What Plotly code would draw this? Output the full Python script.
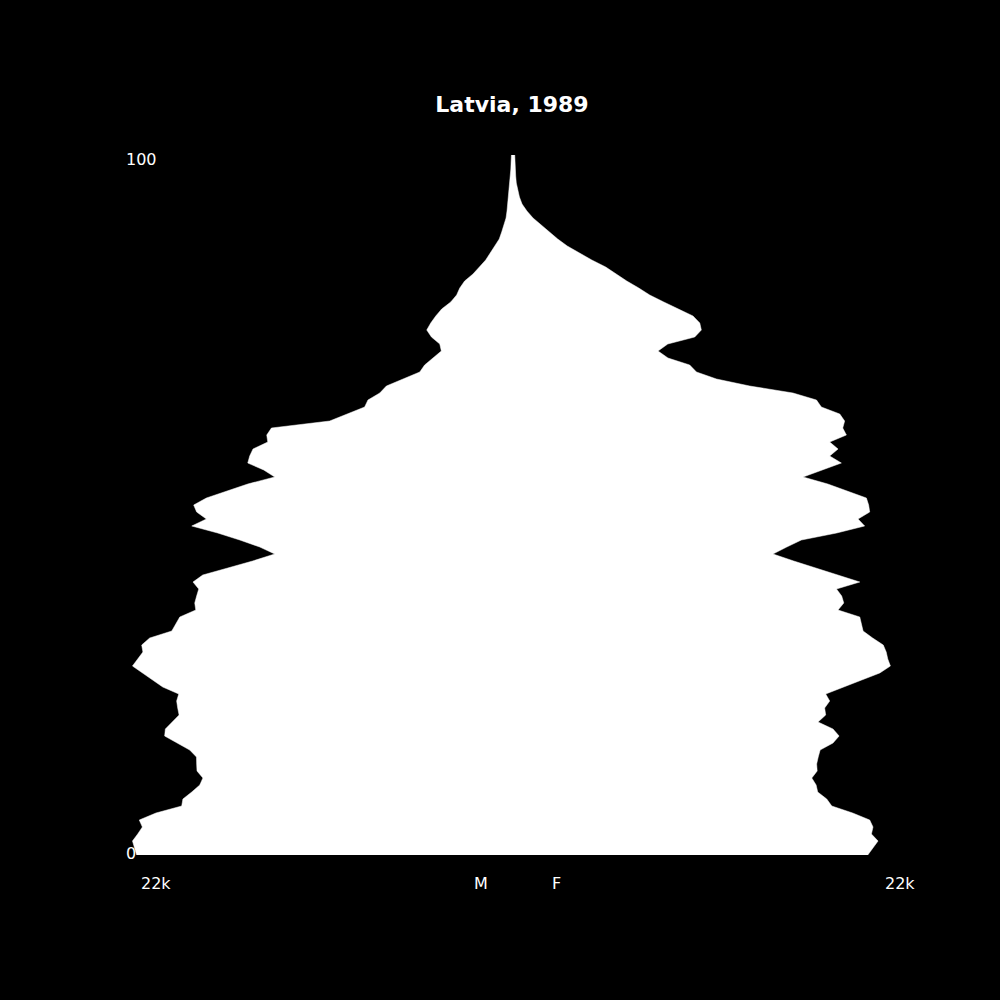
import plotly.graph_objects as go

# ---------------- DATA ----------------
ages = list(range(0, 101))

male = [21640, 21750, 21880, 21580, 21310, 21490, 20530, 19050, 18980, 18470,
        18010, 17830, 18170, 18190, 18200, 18590, 19280, 20030, 19990, 19620,
        19200, 19280, 19340, 19220, 20140, 20720, 21290, 21880, 21580, 21280,
        21350, 20890, 19620, 19390, 19160, 18240, 18300, 18190, 18070, 18400,
        17840, 16400, 14970, 13700, 14560, 15710, 16980, 18470, 17630, 18190,
        18360, 17630, 16460, 15250, 13700, 14330, 15250, 15140, 14950, 14100,
        14160, 13890, 10540, 9500, 8530, 8340, 7660, 7280, 6280, 5360,
        5080, 4620, 4120, 4210, 4690, 4960, 4730, 4440, 4100, 3580,
        3240, 3060, 2780, 2300, 1910, 1570, 1310, 1050, 790, 650,
        510, 400, 345, 305, 260, 220, 180, 150, 125, 110, 90]

female = [20400, 20680, 20990, 20610, 20700, 20510, 19530, 18330, 18040, 17520,
          17430, 17180, 17490, 17460, 17550, 17660, 18400, 18750, 18400, 17540,
          17980, 17920, 18210, 17980, 19020, 20050, 21090, 21700, 21550, 21460,
          21290, 20680, 20130, 20020, 19940, 18690, 19020, 18900, 18600, 19940,
          18610, 17410, 16140, 14950, 15740, 16580, 18610, 20220, 19840, 20510,
          20450, 20320, 19250, 18100, 16680, 17750, 18880, 18210, 18690, 18210,
          19170, 18960, 19070, 18790, 17730, 17450, 16100, 13610, 11700, 10550,
          10160, 8910, 8340, 8900, 10450, 10830, 10740, 10350, 9470, 8670,
          7860, 7230, 6540, 5930, 5330, 4530, 3810, 3120, 2570, 2110,
          1620, 1150, 800, 520, 370, 260, 190, 155, 125, 110, 100]

x_limit = 23000
title_text = "Latvia, 1989"
axis_labels = ["22k", "M", "F", "22k"]
age_labels = ["0", "100"]

# ---------------- SHAPE ----------------
# one closed outline: male side going up, female side coming back down
poly_x = [-v for v in male] + female[::-1]
poly_y = ages + ages[::-1]

fig = go.Figure()
fig.add_trace(go.Scatter(
    x=poly_x,
    y=poly_y,
    mode="lines",
    fill="toself",
    fillcolor="white",
    line=dict(color="white", width=0.5),
    hoverinfo="skip",
    showlegend=False,
))

# ---------------- LABELS ----------------
font = dict(family="DejaVu Sans", size=16, color="white")
annotations = []
for text, xp in zip(axis_labels, [0.0534, 0.4596, 0.5543, 0.9834]):
    annotations.append(dict(text=text, x=xp, y=-0.04, xref="paper", yref="paper",
                            xanchor="center", yanchor="middle", showarrow=False, font=font))
for text, yp in zip(age_labels, [0.0024, 0.9929]):
    annotations.append(dict(text=text, x=0.0135, y=yp, xref="paper", yref="paper",
                            xanchor="left", yanchor="middle", showarrow=False, font=font))

fig.update_layout(
    width=1000,
    height=1000,
    paper_bgcolor="black",
    plot_bgcolor="black",
    margin=dict(l=113.3, r=86.7, t=155, b=145),
    title=dict(text=title_text, x=0.512, xanchor="center", y=0.896, yanchor="middle",
               font=dict(family="DejaVu Sans", size=22, color="white", weight="bold")),
    xaxis=dict(range=[-x_limit, x_limit], visible=False, fixedrange=True),
    yaxis=dict(range=[0, 100], visible=False, fixedrange=True),
    annotations=annotations,
    hovermode=False,
)

# page has a default 8px body margin, drop it so the chart fills the window
fig.write_html("out.html",
               config={"displayModeBar": False},
               post_script="document.body.style.margin='0';document.body.style.background='black';")
